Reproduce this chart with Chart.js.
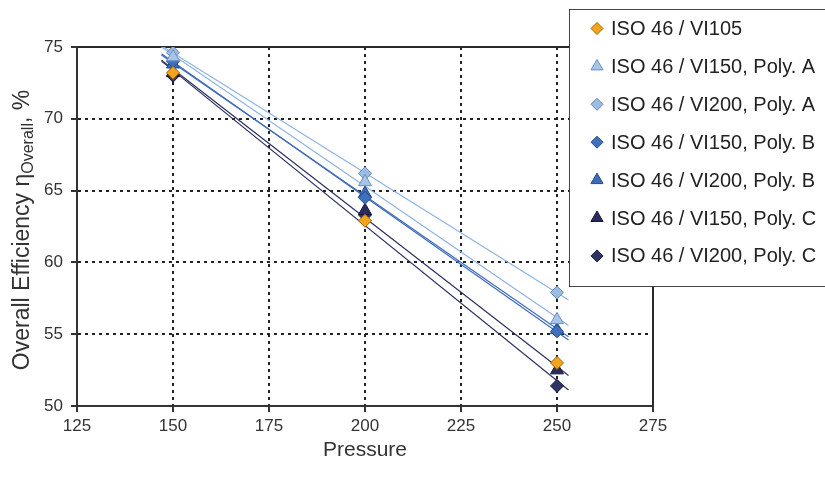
<!DOCTYPE html>
<html>
<head>
<meta charset="utf-8">
<script src="https://cdn.jsdelivr.net/npm/chart.js@4/dist/chart.umd.min.js"></script>
<style>
  html, body { margin: 0; padding: 0; background: #fff; }
  #wrap { width: 825px; height: 479px; }
</style>
</head>
<body>
<div id="wrap"><canvas id="effChart" width="825" height="479"></canvas></div>
<script>
// pressure values measured
const pressures = [150, 200, 250];

// series names (legend order)
const seriesNames = [
  "ISO 46 / VI105",
  "ISO 46 / VI150, Poly. A",
  "ISO 46 / VI200, Poly. A",
  "ISO 46 / VI150, Poly. B",
  "ISO 46 / VI200, Poly. B",
  "ISO 46 / VI150, Poly. C",
  "ISO 46 / VI200, Poly. C"
];

// overall efficiency, %
const vi105 = [73.2, 62.9, 53.0];
const vi150PolyA = [74.3, 65.6, 56.0];
const vi200PolyA = [74.6, 66.2, 57.9];
const vi150PolyB = [74.0, 64.5, 55.2];
const vi200PolyB = [73.8, 64.8, 55.3];
const vi150PolyC = [73.2, 63.6, 52.5];
const vi200PolyC = [73.0, 63.3, 51.4];

const xTicks = [125, 150, 175, 200, 225, 250, 275];
const yTicks = [50, 55, 60, 65, 70, 75];

const seriesValues = [vi105, vi150PolyA, vi200PolyA, vi150PolyB, vi200PolyB, vi150PolyC, vi200PolyC];
const markerShapes = ["rectRot", "triangle", "rectRot", "rectRot", "triangle", "triangle", "rectRot"];
const fillColors = ["#F6A31C", "#A7C4E9", "#9BBCE5", "#4070BC", "#3D6CB9", "#2A2C5E", "#2E3264"];
const edgeColors = ["#9A6410", "#6F8FBA", "#6686B4", "#274D8C", "#254C8C", "#15163A", "#17193E"];
// trendline colour per series (VI105 has no trendline)
const trendColors = [null, "#8EB4E3", "#8EB4E3", "#3F6DB9", "#3F6DB9", "#2E3062", "#2E3062"];
const trendFrom = 147, trendTo = 253;

const FONT = "'Liberation Sans', Arial, sans-serif";

function fitLine(xs, ys) {
  const n = xs.length;
  const mx = xs.reduce((a, b) => a + b, 0) / n;
  const my = ys.reduce((a, b) => a + b, 0) / n;
  let sxy = 0, sxx = 0;
  xs.forEach((x, i) => { sxy += (x - mx) * (ys[i] - my); sxx += (x - mx) * (x - mx); });
  const k = sxy / sxx;
  return x => my + k * (x - mx);
}

const datasets = [];

// linear trendlines first so markers sit on top
seriesValues.forEach((vals, i) => {
  if (!trendColors[i]) return;
  const f = fitLine(pressures, vals);
  datasets.push({
    type: "line",
    label: "Linear (" + seriesNames[i] + ")",
    data: [{ x: trendFrom, y: f(trendFrom) }, { x: trendTo, y: f(trendTo) }],
    borderColor: trendColors[i],
    borderWidth: 1.2,
    pointRadius: 0,
    fill: false,
    order: 10
  });
});

seriesValues.forEach((vals, i) => {
  datasets.push({
    type: "scatter",
    label: seriesNames[i],
    data: pressures.map((p, j) => ({ x: p, y: vals[j] })),
    pointStyle: markerShapes[i],
    pointRadius: markerShapes[i] === "triangle" ? 7.5 : 6.5,
    backgroundColor: fillColors[i],
    borderColor: edgeColors[i],
    borderWidth: 1,
    order: 1
  });
});

const decorPlugin = {
  id: "decor",
  beforeDatasetsDraw(chart) {
    const { ctx, chartArea: a } = chart;
    ctx.save();
    ctx.strokeStyle = "#2b2b2b";
    ctx.lineWidth = 2;
    ctx.beginPath();
    ctx.moveTo(a.left, a.top);
    ctx.lineTo(a.right, a.top);
    ctx.lineTo(a.right, a.bottom);
    ctx.stroke();
    ctx.restore();
  },
  afterDraw(chart) {
    const { ctx, chartArea: a } = chart;
    ctx.save();

    // y axis title with subscript
    const main1 = "Overall Efficiency \u03b7";
    const sub = "Overall";
    const main2 = ", %";
    const bigFont = "23px " + FONT;
    const smallFont = "16px " + FONT;
    ctx.font = bigFont;
    const w1 = ctx.measureText(main1).width;
    const w3 = ctx.measureText(main2).width;
    ctx.font = smallFont;
    const w2 = ctx.measureText(sub).width;
    const total = w1 + w2 + w3;
    ctx.translate(29, 230);
    ctx.rotate(-Math.PI / 2);
    ctx.fillStyle = "#333";
    ctx.textBaseline = "alphabetic";
    ctx.textAlign = "left";
    let x0 = -total / 2;
    ctx.font = bigFont;
    ctx.fillText(main1, x0, 0);
    ctx.font = smallFont;
    ctx.fillText(sub, x0 + w1, 4);
    ctx.font = bigFont;
    ctx.fillText(main2, x0 + w1 + w2, 0);
    ctx.restore();

    // x axis title
    ctx.save();
    ctx.font = "21px " + FONT;
    ctx.fillStyle = "#333";
    ctx.textAlign = "center";
    ctx.textBaseline = "middle";
    ctx.fillText("Pressure", (a.left + a.right) / 2, 450);
    ctx.restore();

    // legend box
    ctx.save();
    const bx = 569, by = 9, bw = 270, bh = 277;
    ctx.fillStyle = "#fff";
    ctx.fillRect(bx, by, bw, bh);
    ctx.strokeStyle = "#444";
    ctx.lineWidth = 1;
    ctx.strokeRect(bx + 0.5, by + 0.5, bw, bh);
    ctx.font = "20px " + FONT;
    ctx.textBaseline = "middle";
    ctx.textAlign = "left";
    seriesNames.forEach((name, i) => {
      const cy = 28.5 + i * 37.9;
      const mx = 597;
      ctx.fillStyle = fillColors[i];
      ctx.strokeStyle = edgeColors[i];
      ctx.lineWidth = 1;
      ctx.beginPath();
      if (markerShapes[i] === "triangle") {
        const r = 7;
        ctx.moveTo(mx, cy - r);
        ctx.lineTo(mx + r * 0.866, cy + r * 0.5);
        ctx.lineTo(mx - r * 0.866, cy + r * 0.5);
      } else {
        const r = 6;
        ctx.moveTo(mx, cy - r);
        ctx.lineTo(mx + r, cy);
        ctx.lineTo(mx, cy + r);
        ctx.lineTo(mx - r, cy);
      }
      ctx.closePath();
      ctx.fill();
      ctx.stroke();
      ctx.fillStyle = "#222";
      ctx.fillText(name, 611, cy + 1);
    });
    ctx.restore();
  }
};

const ctx = document.getElementById("effChart").getContext("2d");

new Chart(ctx, {
  type: "scatter",
  data: { datasets: datasets },
  options: {
    responsive: false,
    animation: false,
    layout: { padding: { top: 47, right: 172, left: 0, bottom: 0 } },
    plugins: {
      legend: { display: false },
      tooltip: { enabled: false }
    },
    scales: {
      x: {
        type: "linear",
        min: xTicks[0],
        max: xTicks[xTicks.length - 1],
        afterBuildTicks(s) { s.ticks = xTicks.map(v => ({ value: v })); },
        afterFit(s) { s.height = 73; },
        ticks: {
          color: "#333",
          font: { size: 17, family: FONT },
          padding: 4,
          maxRotation: 0
        },
        grid: {
          color: "#222",
          lineWidth: 2,
          tickColor: "#333",
          tickLength: 6,
          tickWidth: 2
        },
        border: { display: true, color: "#333", width: 2, dash: [3, 4] }
      },
      y: {
        type: "linear",
        min: yTicks[0],
        max: yTicks[yTicks.length - 1],
        afterBuildTicks(s) { s.ticks = yTicks.map(v => ({ value: v })); },
        afterFit(s) { s.width = 77; },
        ticks: {
          color: "#333",
          font: { size: 17, family: FONT },
          padding: 8
        },
        grid: {
          color: "#222",
          lineWidth: 2,
          tickColor: "#333",
          tickLength: 6,
          tickWidth: 2
        },
        border: { display: true, color: "#333", width: 2, dash: [3, 4] }
      }
    }
  },
  plugins: [decorPlugin]
});
</script>
</body>
</html>
